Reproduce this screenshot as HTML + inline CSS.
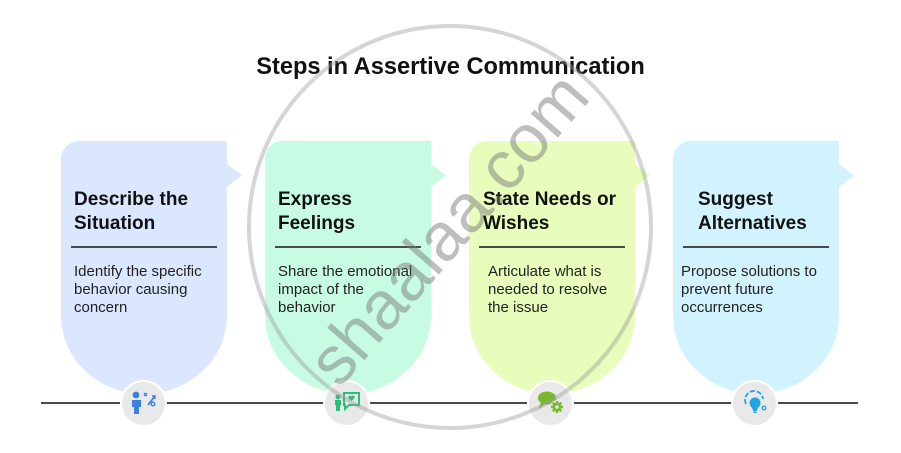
<!DOCTYPE html>
<html>
<head>
<meta charset="utf-8">
<style>
  html,body{margin:0;padding:0;background:#fff;}
  body{width:901px;height:453px;position:relative;overflow:hidden;font-family:"Liberation Sans",Arial,sans-serif;}
  .abs{position:absolute;}
  .title{position:absolute;left:0;width:901px;top:56px;text-align:center;font-weight:bold;font-size:23.6px;line-height:23px;color:#111;}
  .card{position:absolute;top:141px;width:166px;height:253px;border-radius:18px 0 83px 83px / 18px 0 78px 78px;}
  .notch{position:absolute;top:164px;width:15px;height:23px;clip-path:polygon(0 0,100% 50%,0 100%);}
  .h{position:absolute;top:188px;font-weight:bold;font-size:19px;line-height:24px;color:#111;white-space:nowrap;}
  .div{position:absolute;top:246px;width:146px;height:2px;background:#4a4a4a;}
  .b{position:absolute;top:263px;font-size:15px;line-height:18px;color:#222;white-space:nowrap;}
  .line{position:absolute;left:41px;top:402px;width:817px;height:2px;background:#4a4a4a;}
  .circ{position:absolute;top:380px;width:47px;height:47px;box-sizing:border-box;border-radius:50%;background:#e9e9e9;border:2px solid #fff;}
</style>
</head>
<body>
<div class="title">Steps in Assertive Communication</div>

<!-- Card 1 -->
<div class="card" style="left:61px;background:#dbe7fe;"></div>
<div class="notch" style="left:227px;background:#dbe7fe;"></div>
<div class="h" style="left:74px;">Describe the<br>Situation</div>
<div class="div" style="left:71px;"></div>
<div class="b" style="left:74px;">Identify the specific<br>behavior causing<br>concern</div>

<!-- Card 2 -->
<div class="card" style="left:265px;background:#c8fbe4;"></div>
<div class="notch" style="left:431px;background:#c8fbe4;"></div>
<div class="h" style="left:278px;">Express<br>Feelings</div>
<div class="div" style="left:275px;"></div>
<div class="b" style="left:278px;">Share the emotional<br>impact of the<br>behavior</div>

<!-- Card 3 -->
<div class="card" style="left:469px;background:#e8fcbb;"></div>
<div class="notch" style="left:635px;background:#e8fcbb;"></div>
<div class="h" style="left:483px;">State Needs or<br>Wishes</div>
<div class="div" style="left:479px;"></div>
<div class="b" style="left:488px;">Articulate what is<br>needed to resolve<br>the issue</div>

<!-- Card 4 -->
<div class="card" style="left:673px;background:#d2f3fe;"></div>
<div class="notch" style="left:839px;background:#d2f3fe;"></div>
<div class="h" style="left:698px;">Suggest<br>Alternatives</div>
<div class="div" style="left:683px;"></div>
<div class="b" style="left:681px;">Propose solutions to<br>prevent future<br>occurrences</div>

<div class="line"></div>

<div class="circ" style="left:120px;"></div>
<div class="circ" style="left:323px;"></div>
<div class="circ" style="left:527px;"></div>
<div class="circ" style="left:731px;"></div>

<svg class="abs" style="left:0;top:0;" width="901" height="453" viewBox="0 0 901 453">
  <!-- Icon 1 -->
  <g transform="translate(144,403)" fill="#3d7fe0" stroke="#3d7fe0">
    <circle cx="-8" cy="-8" r="3.4" stroke="none"/>
    <path d="M-12,-3 h9 v7 h-2 v7 h-5 v-7 h-2 z" stroke="none"/>
    <path d="M0,-10 l3,3 M3,-10 l-3,3" stroke-width="1.4" fill="none"/>
    <path d="M4,2 L11,-7" stroke-width="1.8" fill="none"/>
    <path d="M8,-7 h3 v3" stroke-width="1.4" fill="none"/>
    <circle cx="9" cy="1" r="1.8" fill="none" stroke-width="1.4"/>
  </g>
  <!-- Icon 2 -->
  <g transform="translate(347,403)" fill="#2dbd7c" stroke="#2dbd7c">
    <circle cx="-9" cy="-6" r="2.5" stroke="none"/>
    <path d="M-12,-3 h6 v5 h-1 v6 h-4 v-6 h-1 z" stroke="none"/>
    <path d="M-3,-10 h15 v12 h-10 l-4,4 v-4 h-1 z" fill="none" stroke-width="2"/>
    <path d="M4.5,-2 l-3,-3 a1.6,1.6 0 0 1 3,-1.5 a1.6,1.6 0 0 1 3,1.5 z" stroke="none"/>
  </g>
  <!-- Icon 3 -->
  <g transform="translate(551,403)">
    <ellipse cx="-4" cy="-5" rx="9" ry="6.5" fill="#7cb82f"/>
    <path d="M-10,-1 L-12,6 L-5,0 z" fill="#7cb82f"/>
    <circle cx="6" cy="4" r="7" fill="#e9e9e9"/>
    <g transform="translate(6,4)" fill="#7cb82f">
      <circle r="4.2"/>
      <rect x="-1.3" y="-6" width="2.6" height="12"/>
      <rect x="-6" y="-1.3" width="12" height="2.6"/>
      <rect x="-1.3" y="-6" width="2.6" height="12" transform="rotate(45)"/>
      <rect x="-1.3" y="-6" width="2.6" height="12" transform="rotate(-45)"/>
      <circle r="1.8" fill="#e9e9e9"/>
    </g>
  </g>
  <!-- Icon 4 -->
  <g transform="translate(755,403)" fill="#1ea5e1" stroke="#1ea5e1">
    <path d="M-9,1 A9,9 0 1 1 8,-4" fill="none" stroke-width="1.8" stroke-dasharray="5 2"/>
    <circle cx="0" cy="0" r="5.5" stroke="none"/>
    <path d="M-3,5 h6 l-1.5,3 h-3 z" stroke="none"/>
    <rect x="-1.5" y="8.5" width="3" height="1.5" stroke="none"/>
    <circle cx="9" cy="5" r="1.8" fill="none" stroke-width="1.3"/>
  </g>

  <!-- Watermark -->
  <circle cx="450" cy="227" r="201" fill="none" stroke="#9a9a9a" stroke-opacity="0.42" stroke-width="4"/>
  <text x="0" y="0" transform="translate(452,232) rotate(-49)" text-anchor="middle" dominant-baseline="middle" font-family="Liberation Sans, Arial, sans-serif" font-size="68" fill="#777" fill-opacity="0.48">shaalaa.com</text>
</svg>
</body>
</html>
